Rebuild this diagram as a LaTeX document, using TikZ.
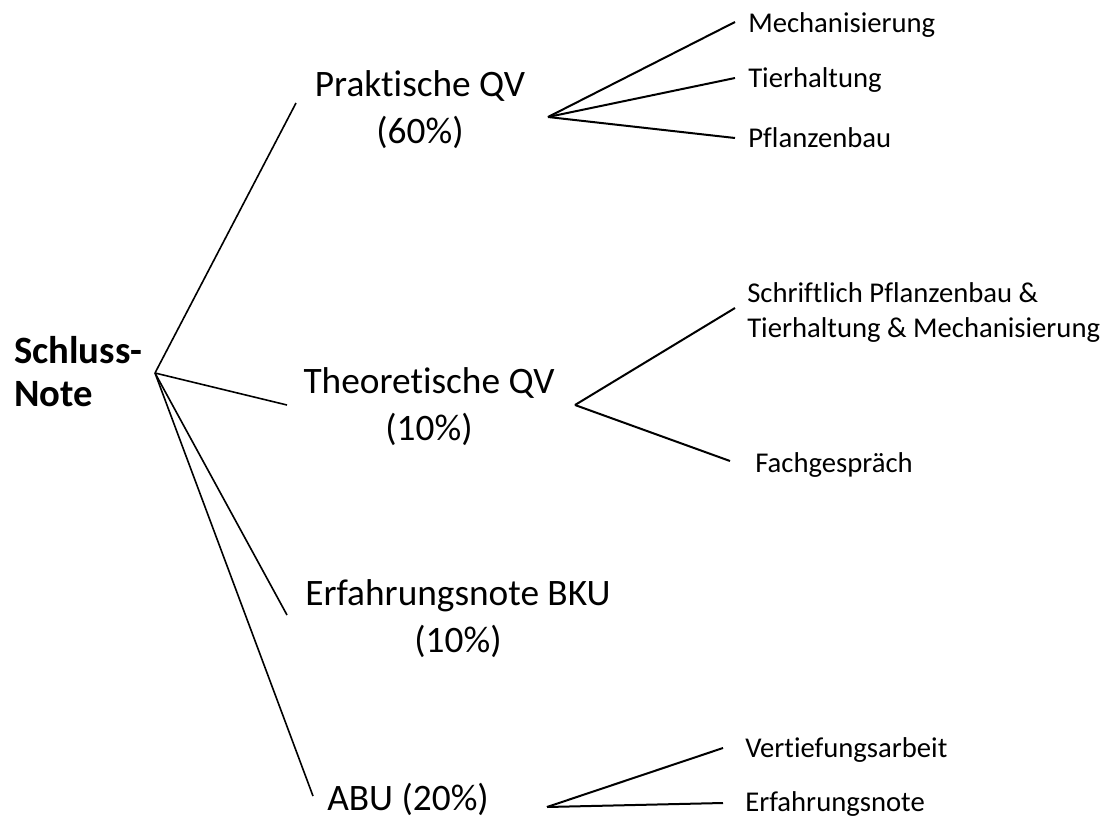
\documentclass[tikz,border=0pt]{standalone}
\usepackage{fontspec}
\setmainfont[Ligatures=NoCommon]{Carlito}
\begin{document}
\begin{tikzpicture}[x=0.75pt,y=-0.75pt,
  rootlabel/.style={font={\bfseries\fontsize{29}{32}\selectfont}, align=left, anchor=base west, inner sep=0pt},
  mainlabel/.style={font={\fontsize{28}{35}\selectfont}, align=center, anchor=base, inner sep=0pt},
  sublabel/.style={font={\fontsize{21.5}{26.25}\selectfont}, align=left, anchor=base west, inner sep=0pt},
  mainline/.style={line width=1.2pt},
  subline/.style={line width=1.5pt}]
\useasboundingbox (0,0) rectangle (1115,818);
\node[rootlabel] (schluss) at (14,406) {Schluss-\\Note};
\node[mainlabel] (prakt) at (420,143) {Praktische QV\\(60\%)};
\node[mainlabel] (theo) at (429,440) {Theoretische QV\\(10\%)};
\node[mainlabel] (bku) at (458,652) {Erfahrungsnote BKU\\(10\%)};
\node[mainlabel] (abu) at (408,810) {ABU (20\%)};
\node[sublabel] (mech) at (748,32) {Mechanisierung};
\node[sublabel] (tier) at (748,87) {Tierhaltung};
\node[sublabel] (pflanz) at (748,147) {Pflanzenbau};
\node[sublabel] (schrift) at (747,337) {Schriftlich Pflanzenbau \&\\Tierhaltung \& Mechanisierung};
\node[sublabel] (fach) at (755,472) {Fachgespräch};
\node[sublabel] (vert) at (745,757) {Vertiefungsarbeit};
\node[sublabel] (erfa) at (745,811) {Erfahrungsnote};
\coordinate (root) at (155,373);
\coordinate (praktIn) at (296,103);
\coordinate (theoIn) at (287,405);
\coordinate (bkuIn) at (287,615);
\coordinate (abuIn) at (313,796);
\coordinate (praktOut) at (548,117);
\coordinate (theoOut) at (575,405);
\coordinate (abuOut) at (547,807);
\coordinate (mechIn) at (735,22);
\coordinate (tierIn) at (735,78);
\coordinate (pflanzIn) at (735,138);
\coordinate (schriftIn) at (735,308);
\coordinate (fachIn) at (730,461);
\coordinate (vertIn) at (723,748);
\coordinate (erfaIn) at (723,803);
\draw[mainline] (root) -- (praktIn);
\draw[mainline] (root) -- (theoIn);
\draw[mainline] (root) -- (bkuIn);
\draw[mainline] (root) -- (abuIn);
\draw[subline] (praktOut) -- (mechIn);
\draw[subline] (praktOut) -- (tierIn);
\draw[subline] (praktOut) -- (pflanzIn);
\draw[subline] (theoOut) -- (schriftIn);
\draw[subline] (theoOut) -- (fachIn);
\draw[subline] (abuOut) -- (vertIn);
\draw[subline] (abuOut) -- (erfaIn);
\end{tikzpicture}
\end{document}
